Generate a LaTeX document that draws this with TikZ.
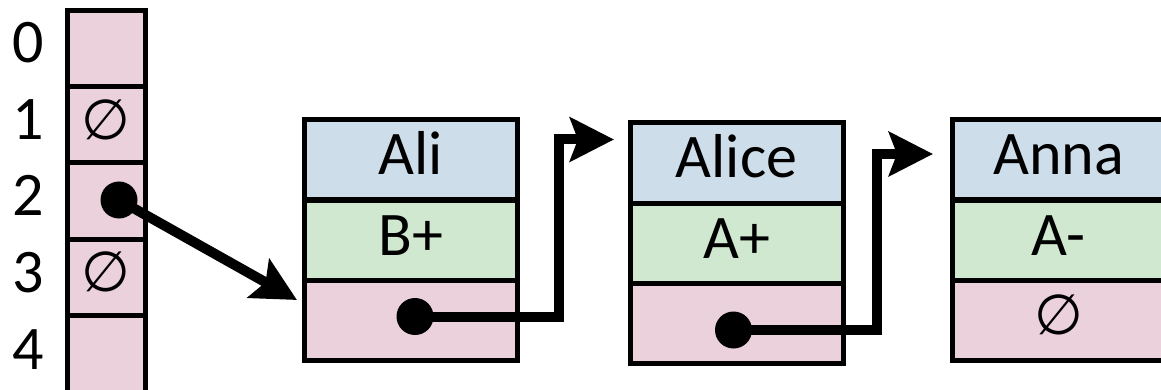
\documentclass[tikz,border=0pt]{standalone}
\usepackage{fontspec}
\setmainfont{Carlito}
\newfontfamily\nilfont{DejaVu Sans}
\usetikzlibrary{arrows.meta}
\definecolor{cellpink}{RGB}{234,209,220}
\definecolor{cellblue}{RGB}{205,221,234}
\definecolor{cellgreen}{RGB}{208,232,207}
\begin{document}
\begin{tikzpicture}[x=1pt,y=-1pt,
  every node/.style={font=\fontsize{62}{74}\selectfont},
  box/.style={draw, line width=5pt, rectangle, inner sep=0pt},
  slot/.style={box, fill=cellpink, minimum width=78pt, minimum height=76pt},
  field/.style={box, minimum width=213pt, minimum height=80pt,
                text height=30pt, text depth=0pt},
  namef/.style={field, fill=cellblue},
  gradef/.style={field, fill=cellgreen},
  nextf/.style={field, fill=cellpink},
  idx/.style={anchor=base, inner sep=0pt},
  nil/.style={inner sep=0pt, font=\nilfont\fontsize{56}{60}\selectfont},
  dot/.style={circle, fill=black, inner sep=0pt, minimum size=37pt},
  ptr/.style={line width=10pt, line join=miter,
              -{Stealth[length=44pt, width=44pt, inset=8pt]}}
]
\clip (0,0) rectangle (1161,390);
\useasboundingbox (0,0) rectangle (1161,390);

% hash table slots and their indices
\node[slot] (s0) at (106,49) {};
\node[slot] (s1) at (106,125) {};
\node[slot] (s2) at (106,201) {};
\node[slot] (s3) at (106,277) {};
\node[slot, minimum height=84pt] (s4) at (106,357) {};

\node[idx] (i0) at (28,63) {0};
\node[idx] (i1) at (28,140) {1};
\node[idx] (i2) at (28,215) {2};
\node[idx] (i3) at (28,292) {3};
\node[idx] (i4) at (28,369) {4};

\node[nil, yshift=5pt] (n1) at (s1) {∅};
\node[nil, yshift=5pt] (n3) at (s3) {∅};

% linked list records: name, grade, next
\node[namef]  (aliName)  at (411,160) {Ali};
\node[gradef] (aliGrade) at (411,240) {B+};
\node[nextf]  (aliNext)  at (411,320) {};

\node[namef]  (alcName)  at (736.5,163) {Alice};
\node[gradef] (alcGrade) at (736.5,243) {A+};
\node[nextf]  (alcNext)  at (736.5,323) {};

\node[namef]  (annName)  at (1058.5,160) {Anna};
\node[gradef] (annGrade) at (1058.5,240) {A-};
\node[nextf]  (annNext)  at (1058.5,320) {};
\node[nil, yshift=5pt] (n4) at (annNext) {∅};

% pointers
\node[dot] (d2)   at (119,200) {};
\node[dot] (dAli) at (415,316.5) {};
\node[dot] (dAlc) at (733.5,330) {};

\coordinate (t0) at (297,300);
\coordinate (b1) at (559,139.5);
\coordinate (t1) at (614,139.5);
\coordinate (b2) at (877,154);
\coordinate (t2) at (933,154);

\draw[ptr] (d2.center) -- (t0);
\draw[ptr] (dAli.center) -| (b1) -- (t1);
\draw[ptr] (dAlc.center) -| (b2) -- (t2);
\end{tikzpicture}
\end{document}
